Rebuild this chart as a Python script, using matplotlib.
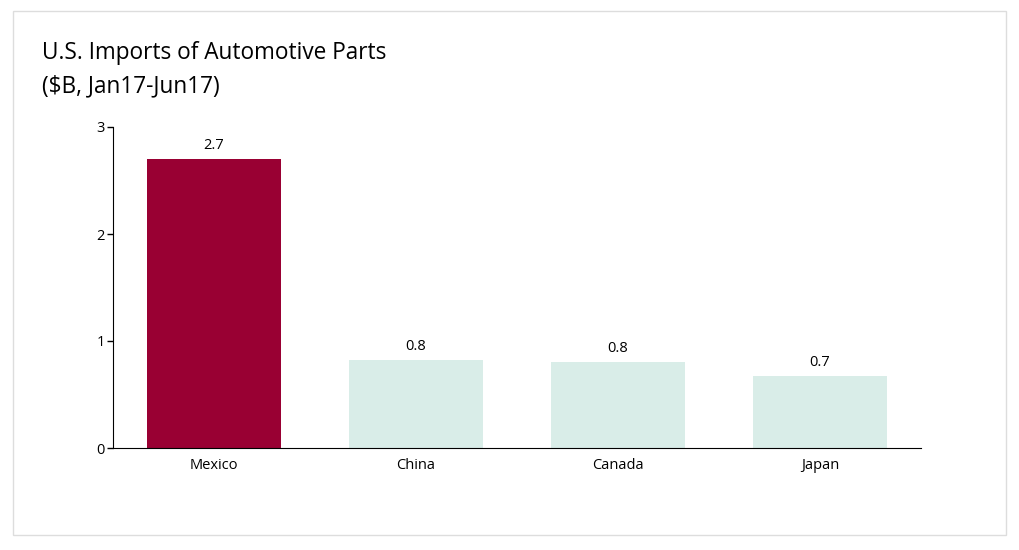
import matplotlib.pyplot as plt
from matplotlib.patches import Rectangle

plt.rcParams['font.family'] = ['Open Sans', 'DejaVu Sans']

# Data
countries = ['Mexico', 'China', 'Canada', 'Japan']
imports = [2.70, 0.82, 0.80, 0.67]
labels = ['2.7', '0.8', '0.8', '0.7']
colors = ['#990033', '#d9ede8', '#d9ede8', '#d9ede8']

fig = plt.figure(figsize=(10.19, 5.5), dpi=100)

# light frame around the whole chart
fig.patches.append(Rectangle((13 / 1019, 1 - 535 / 550), 993 / 1019, 524 / 550,
                             transform=fig.transFigure, fill=False,
                             edgecolor='#dddddd', linewidth=1))

ax = fig.add_axes([113 / 1019, 1 - 448 / 550, 808 / 1019, 321 / 550])
x = range(len(countries))
ax.bar(x, imports, width=0.66, color=colors)
for i, (v, lab) in enumerate(zip(imports, labels)):
    ax.text(i, v + 0.06, lab, ha='center', va='bottom', fontsize=10.5)

ax.set_xlim(-0.5, 3.5)
ax.set_ylim(0, 3)
ax.set_yticks([0, 1, 2, 3])
ax.set_xticks(list(x))
ax.set_xticklabels(countries, fontsize=10.5)
ax.tick_params(axis='y', labelsize=10.5, length=4, width=1, pad=2)
ax.tick_params(axis='x', length=0, pad=7)
ax.spines['top'].set_visible(False)
ax.spines['right'].set_visible(False)

fig.text(42.5 / 1019, 1 - 53 / 550, 'U.S. Imports of Automotive Parts',
         fontsize=16.3, va='center', ha='left')
fig.text(42.5 / 1019, 1 - 86 / 550, '($B, Jan17-Jun17)',
         fontsize=16.3, va='center', ha='left')

fig.savefig('out.png', dpi=100)
